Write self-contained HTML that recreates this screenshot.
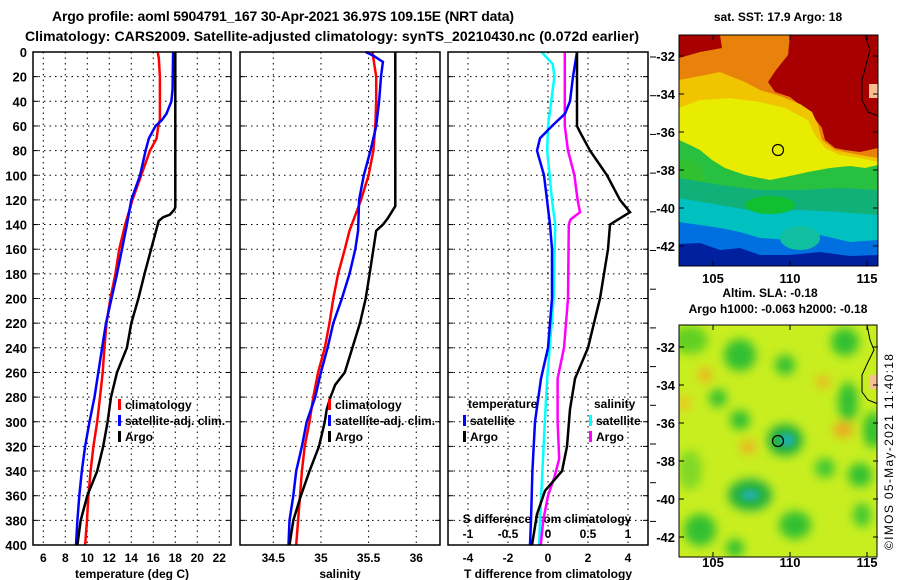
<!DOCTYPE html>
<html><head><meta charset="utf-8">
<style>
html,body{margin:0;padding:0;background:#fff;}
svg{display:block;font-family:"Liberation Sans",sans-serif;font-weight:bold;}
</style></head>
<body>
<svg id="fig" width="900" height="580" viewBox="0 0 900 580">
<defs>
<filter id="blur3" x="-20%" y="-20%" width="140%" height="140%"><feGaussianBlur stdDeviation="3"/></filter>
<filter id="blur5" x="-30%" y="-30%" width="160%" height="160%"><feGaussianBlur stdDeviation="5"/></filter>
<clipPath id="m1clip"><rect x="679" y="35" width="199" height="231"/></clipPath>
<clipPath id="m2clip"><rect x="679" y="325" width="198" height="232"/></clipPath>
</defs>
<text x="283" y="21" text-anchor="middle" font-size="14" textLength="462">Argo profile: aoml 5904791_167 30-Apr-2021 36.97S 109.15E (NRT data)</text>
<text x="332" y="41" text-anchor="middle" font-size="14" textLength="614">Climatology: CARS2009. Satellite-adjusted climatology: synTS_20210430.nc (0.072d earlier)</text>

<g id="p1"></g>
<g id="p2"></g>
<g id="p3"></g>

<g>
<text x="778" y="21" text-anchor="middle" font-size="12">sat. SST: 17.9 Argo: 18</text>
<g clip-path="url(#m1clip)">
<rect x="679" y="35" width="199" height="231" fill="#e8820a"/>
<polygon points="679,35 720,35 722,48 700,52 679,58" fill="#a80000"/>
<polygon points="790,35 878,35 878,148 860,152 845,150 835,148 825,140 822,128 812,115 800,105 790,97 775,92 768,82 776,70 788,55" fill="#a80000"/>
<polygon points="679,80 700,76 720,72 745,82 760,90 780,96 800,104 812,112 818,125 822,140 835,150 860,155 878,158 878,266 679,266" fill="#f0c400"/>
<polygon points="679,108 700,100 730,98 760,102 785,108 808,120 815,135 825,148 840,155 860,158 878,162 878,266 679,266" fill="#e8ec00"/>
<polygon points="679,140 690,145 700,150 712,160 725,168 745,175 770,180 790,176 808,172 830,168 850,166 865,168 878,165 878,266 679,266" fill="#28c040"/>
<polygon points="679,160 690,158 700,165 705,180 700,190 679,190" fill="#30c030"/>
<polygon points="679,178 720,185 760,190 800,190 840,188 878,190 878,266 679,266" fill="#10b078"/>
<polygon points="679,198 720,205 760,212 800,210 840,212 878,215 878,266 679,266" fill="#00c0c0"/>
<ellipse cx="770" cy="205" rx="25" ry="9" fill="#10c030"/>
<polygon points="679,222 700,225 720,228 740,232 760,238 790,240 820,235 850,242 878,240 878,266 679,266" fill="#0070e0"/>
<ellipse cx="800" cy="238" rx="20" ry="12" fill="#10c0a0"/>
<polygon points="679,244 700,243 720,250 740,248 760,255 790,255 820,252 850,256 878,255 878,266 679,266" fill="#0020a0"/>
<path d="M865,35 L870,50 L866,65 L862,80 L862,100 L868,112 L878,116" fill="none" stroke="#000" stroke-width="1"/>
<rect x="869" y="84" width="9" height="14" fill="#f8c090"/>
<circle cx="778" cy="150" r="5.5" fill="none" stroke="#000" stroke-width="1.2"/>
</g>
<rect x="679" y="35" width="199" height="231" fill="none" stroke="#000" stroke-width="1"/>
</g>

<text x="770" y="297" text-anchor="middle" font-size="12">Altim. SLA: -0.18</text>
<text x="778" y="313" text-anchor="middle" font-size="12">Argo h1000: -0.063 h2000: -0.18</text>

<g>
<g clip-path="url(#m2clip)">
<rect x="679" y="325" width="198" height="232" fill="#c8ee20"/>
<g filter="url(#blur5)">
<ellipse cx="690" cy="340" rx="18" ry="14" fill="#60d020"/>
<ellipse cx="740" cy="355" rx="16" ry="16" fill="#30c030"/>
<ellipse cx="785" cy="365" rx="10" ry="10" fill="#30c030"/>
<ellipse cx="845" cy="342" rx="14" ry="14" fill="#30c030"/>
<ellipse cx="848" cy="402" rx="10" ry="20" fill="#30c030"/>
<ellipse cx="740" cy="420" rx="10" ry="10" fill="#30c030"/>
<ellipse cx="718" cy="398" rx="9" ry="9" fill="#30c030"/>
<ellipse cx="785" cy="440" rx="18" ry="16" fill="#20b040"/>
<ellipse cx="750" cy="495" rx="22" ry="16" fill="#20b040"/>
<ellipse cx="700" cy="530" rx="16" ry="16" fill="#30c030"/>
<ellipse cx="795" cy="525" rx="16" ry="14" fill="#30c030"/>
<ellipse cx="873" cy="430" rx="10" ry="18" fill="#30c030"/>
<ellipse cx="860" cy="475" rx="12" ry="12" fill="#30c030"/>
<ellipse cx="825" cy="468" rx="10" ry="10" fill="#40c830"/>
<ellipse cx="862" cy="515" rx="9" ry="12" fill="#40c830"/>
<ellipse cx="735" cy="548" rx="9" ry="9" fill="#30c030"/>
<ellipse cx="690" cy="470" rx="12" ry="20" fill="#80d828"/>
<ellipse cx="705" cy="375" rx="7" ry="7" fill="#f0b020"/>
<ellipse cx="823" cy="382" rx="7" ry="6" fill="#f0b020"/>
<ellipse cx="843" cy="430" rx="10" ry="7" fill="#f0a020"/>
<ellipse cx="748" cy="447" rx="8" ry="7" fill="#f0b020"/>
<ellipse cx="684" cy="403" rx="6" ry="8" fill="#f0c020"/>
</g>
<ellipse cx="787" cy="440" rx="8" ry="7" fill="#20b0a0" filter="url(#blur3)"/>
<ellipse cx="750" cy="495" rx="9" ry="6" fill="#20b0a0" filter="url(#blur3)"/>
<path d="M867,325 L870,340 L874,350 L868,362 L862,375 L862,392 L868,400 L878,404" fill="none" stroke="#000" stroke-width="1"/>
<rect x="869" y="375" width="9" height="14" fill="#f8c090"/>
<circle cx="778" cy="441" r="5.5" fill="none" stroke="#000" stroke-width="1.2"/>
</g>
<rect x="679" y="325" width="198" height="232" fill="none" stroke="#000" stroke-width="1"/>
</g>
<g id="maps-axes"></g>
<text transform="translate(893,452) rotate(-90)" text-anchor="middle" font-size="12" font-weight="normal" textLength="196">©IMOS 05-May-2021 11:40:18</text>
</svg>
<script>
// ---- Panel 1: temperature ----
const depthTempClim = [0,5,20,55,60,70,80,100,120,140,160,180,200,220,240,260,280,300,320,340,360,380,400];
const tempClim = [16.4,16.5,16.6,16.6,16.45,16.3,15.7,14.9,14.1,13.45,12.9,12.55,12.1,11.75,11.55,11.4,11.15,10.9,10.55,10.3,10.1,9.97,9.8];
const depthTempSat = [0,30,40,50,55,60,70,80,100,120,140,160,180,200,220,240,260,280,300,320,340,360,380,400];
const tempSat = [17.8,17.75,17.65,17.2,16.8,16.2,15.6,15.3,14.8,14.0,13.6,13.15,12.7,12.2,11.7,11.35,11.0,10.65,10.2,9.8,9.5,9.27,9.1,8.97];
const depthTempArgo = [0,126,128,132,134,137,140,145,160,180,200,220,240,260,280,300,320,340,360,380,400];
const tempArgo = [18.0,18.0,17.9,17.5,16.9,16.5,16.4,16.25,15.8,15.2,14.65,14.0,13.6,12.7,12.15,11.85,11.45,10.9,10.0,9.4,9.1];
const tempTicks = [6,8,10,12,14,16,18,20,22];
// ---- Panel 2: salinity ----
const depthSalClim = [0,20,40,60,80,100,120,145,160,180,200,220,240,260,280,300,320,340,360,380,400];
const salClim = [35.54,35.58,35.58,35.57,35.55,35.5,35.42,35.3,35.25,35.18,35.13,35.09,35.04,34.97,34.92,34.88,34.83,34.8,34.78,34.76,34.74];
const depthSalSat = [0,3,8,20,40,60,80,100,120,145,160,180,200,220,240,260,280,300,320,340,360,380,400];
const salSat = [35.47,35.55,35.65,35.63,35.61,35.58,35.52,35.45,35.4,35.39,35.36,35.3,35.22,35.13,35.07,35.0,34.94,34.85,34.8,34.74,34.71,34.67,34.66];
const depthSalArgo = [0,125,135,140,145,160,180,200,220,240,260,270,280,290,300,320,340,360,380,400];
const salArgo = [35.78,35.78,35.7,35.65,35.58,35.55,35.51,35.47,35.41,35.33,35.25,35.15,35.1,35.06,35.04,34.98,34.88,34.79,34.71,34.67];
const salTicks = [34.5,35,35.5,36];
// ---- Panel 3: differences ----
const depthDTsat = [0,20,40,50,60,70,80,100,120,140,160,200,240,265,300,340,380,400];
const dTsat = [1.45,1.25,1.1,0.85,0.2,-0.4,-0.55,-0.2,-0.05,0.1,0.2,0.2,0.0,-0.35,-0.65,-0.78,-0.85,-0.9];
const depthDTargo = [0,60,65,80,100,120,130,136,140,160,200,220,240,265,290,320,340,356,375,400];
const dTargo = [1.45,1.45,1.6,2.1,2.95,3.6,4.1,3.5,3.1,3.0,2.6,2.3,2.0,1.35,1.1,0.95,0.7,-0.15,-0.55,-0.8];
const depthDSsat = [0,10,20,40,60,80,100,120,140,200,265,300,340,380,400];
const dSsat = [-0.08,0.06,0.08,0.04,0.0,-0.01,0.02,0.05,0.09,0.07,-0.01,-0.04,-0.07,-0.1,-0.11];
const depthDSargo = [0,60,80,100,120,130,136,140,200,240,265,300,330,345,360,380,400];
const dSargo = [0.21,0.21,0.25,0.33,0.37,0.4,0.28,0.26,0.25,0.2,0.12,0.12,0.14,0.08,0.0,-0.06,-0.09];
const dTTicks = [-4,-2,0,2,4];
const dSTicks = [-1,-0.5,0,0.5,1];
const depthTicks = [0,20,40,60,80,100,120,140,160,180,200,220,240,260,280,300,320,340,360,380,400];

const NS = 'http://www.w3.org/2000/svg';
const Y0 = 52, Y1 = 545;
const yScale = d => Y0 + d * (Y1 - Y0) / 400;
function mk(parent, tag, attrs, txt){
  const e = document.createElementNS(NS, tag);
  for (const k in attrs) e.setAttribute(k, attrs[k]);
  if (txt !== undefined) e.textContent = txt;
  parent.appendChild(e);
  return e;
}
function line(parent, xs, ds, xf, color, w){
  const pts = xs.map((v,i)=> xf(v).toFixed(1)+','+yScale(ds[i]).toFixed(1)).join(' ');
  return mk(parent,'polyline',{points:pts,fill:'none',stroke:color,'stroke-width':w});
}
function frame(g, x0, x1, gridXs){
  gridXs.forEach(x=>{
    const l = mk(g,'line',{x1:x,x2:x,y1:Y0,y2:Y1,stroke:'#000','stroke-width':1,'stroke-dasharray':'1.5 4'});
    
    
  });
  depthTicks.forEach(d=>{
    if (d===0||d===400) return;
    const l = mk(g,'line',{x1:x0,x2:x1,y1:yScale(d),y2:yScale(d),stroke:'#000','stroke-width':1,'stroke-dasharray':'1.5 4'});
    
    
    mk(g,'line',{x1:x0,x2:x0+5,y1:yScale(d),y2:yScale(d),stroke:'#000'});
    mk(g,'line',{x1:x1-5,x2:x1,y1:yScale(d),y2:yScale(d),stroke:'#000'});
  });
}
function border(g,x0,x1){
  const r = mk(g,'rect',{x:x0,y:Y0,width:x1-x0,height:Y1-Y0,fill:'none',stroke:'#000','stroke-width':1.5});
  
  
}
function legendEntry(g,x,y,color,label){
  mk(g,'rect',{x:x,y:y-9,width:3,height:11,fill:color});
  const t = mk(g,'text',{x:x+7,y:y+1,'font-size':12},label);
  
  
}

(function(){
  const g = document.getElementById('p1');
  const x0=33,x1=231;
  const xs = v => 43.3 + (v-6)*11;
  frame(g,x0,x1,tempTicks.map(xs));
  tempTicks.forEach(v=>{
    const t = mk(g,'text',{x:xs(v),y:562,'text-anchor':'middle','font-size':12},String(v));
    
    
  });
  depthTicks.forEach(d=>{
    const t = mk(g,'text',{x:27,y:yScale(d)+5,'text-anchor':'end','font-size':13},String(d));
    
    
  });
  const a = mk(g,'text',{x:132,y:578,'text-anchor':'middle','font-size':12},'temperature (deg C)');
  
  
  const r = line(g,tempClim,depthTempClim,xs,'#ff0000',2.5);
  
  
  const b = line(g,tempSat,depthTempSat,xs,'#0000ff',2.5);
  
  
  const k = line(g,tempArgo,depthTempArgo,xs,'#000000',2.5);
  
  
  legendEntry(g,118,408,'#ff0000','climatology');
  legendEntry(g,118,424,'#0000ff','satellite-adj. clim.');
  legendEntry(g,118,440,'#000000','Argo');
  border(g,x0,x1);
})();

(function(){
  const g = document.getElementById('p2');
  const x0=240,x1=440;
  const xs = v => 273.3 + (v-34.5)*95.3;
  frame(g,x0,x1,salTicks.map(xs));
  salTicks.forEach(v=>{
    const t = mk(g,'text',{x:xs(v),y:562,'text-anchor':'middle','font-size':12},String(v));
    
    
  });
  const a = mk(g,'text',{x:340,y:578,'text-anchor':'middle','font-size':12},'salinity');
  
  
  const r = line(g,salClim,depthSalClim,xs,'#ff0000',2.5);
  
  
  const b = line(g,salSat,depthSalSat,xs,'#0000ff',2.5);
  
  
  const k = line(g,salArgo,depthSalArgo,xs,'#000000',2.5);
  
  
  legendEntry(g,328,408,'#ff0000','climatology');
  legendEntry(g,328,424,'#0000ff','satellite-adj. clim.');
  legendEntry(g,328,440,'#000000','Argo');
  border(g,x0,x1);
})();

(function(){
  const g = document.getElementById('p3');
  const x0=448,x1=648;
  const xt = v => 548 + v*20;
  const xsS = v => 548 + v*80;
  frame(g,x0,x1,dTTicks.map(xt));
  dTTicks.forEach(v=>{
    const t = mk(g,'text',{x:xt(v),y:562,'text-anchor':'middle','font-size':12},String(v));
    
    
  });
  dSTicks.forEach(v=>{
    const t = mk(g,'text',{x:xsS(v),y:538,'text-anchor':'middle','font-size':12},String(v));
    
    
  });
  const sa = mk(g,'text',{x:547,y:523,'text-anchor':'middle','font-size':12},'S difference from climatology');
  
  
  const a = mk(g,'text',{x:548,y:578,'text-anchor':'middle','font-size':12},'T difference from climatology');
  
  
  const c = line(g,dSsat,depthDSsat,xsS,'#00ffff',2.5);
  
  
  const m = line(g,dSargo,depthDSargo,xsS,'#ff00ff',2.5);
  
  
  const b = line(g,dTsat,depthDTsat,xt,'#0000ff',2.5);
  
  
  const k = line(g,dTargo,depthDTargo,xt,'#000000',2.5);
  
  
  const th = mk(g,'text',{x:468,y:408,'font-size':12},'temperature');
  
  
  const sh = mk(g,'text',{x:594,y:408,'font-size':12},'salinity');
  
  
  legendEntry(g,463,424,'#0000ff','satellite');
  legendEntry(g,463,440,'#000000','Argo');
  legendEntry(g,589,424,'#00ffff','satellite');
  legendEntry(g,589,440,'#ff00ff','Argo');
  border(g,x0,x1);
  for (let y=57; y < Y1; y+=38.7){
    mk(g,'line',{x1:650,x2:656,y1:y,y2:y,stroke:'#000'});
  }
})();

(function(){
  const g = document.getElementById('maps-axes');
  const lons = [105,110,115];
  const lx = v => 713 + (v-105)*15.4;
  const lats = [-32,-34,-36,-38,-40,-42];
  [[35,266,56,283],[325,557,347,567]].forEach(([top,bot,y32,labY])=>{
    lons.forEach(v=>{
      mk(g,'line',{x1:lx(v),x2:lx(v),y1:top,y2:top+5,stroke:'#000'});
      mk(g,'line',{x1:lx(v),x2:lx(v),y1:bot-5,y2:bot,stroke:'#000'});
      const t = mk(g,'text',{x:lx(v),y:labY,'text-anchor':'middle','font-size':13},String(v));
      
      
    });
    lats.forEach(v=>{
      const y = y32 + (-32 - v)*19;
      mk(g,'line',{x1:679,x2:684,y1:y,y2:y,stroke:'#000'});
      mk(g,'line',{x1:873,x2:878,y1:y,y2:y,stroke:'#000'});
      const t = mk(g,'text',{x:675,y:y+5,'text-anchor':'end','font-size':13},String(v));
      
      
    });
  });
})();
</script>
</body></html>
